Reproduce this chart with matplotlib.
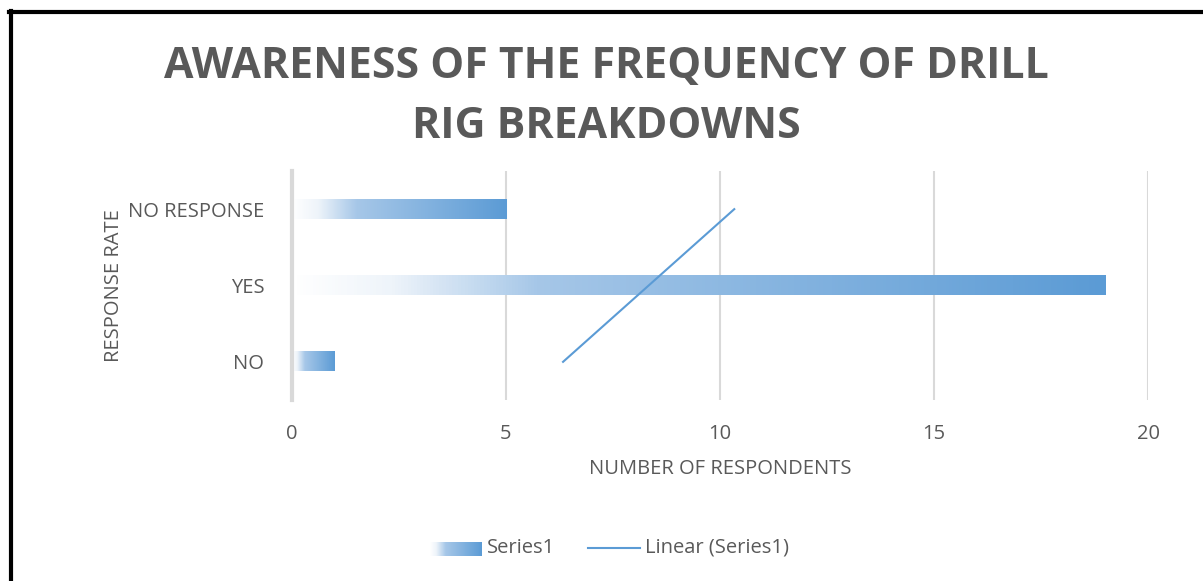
import numpy as np
import matplotlib
matplotlib.use("Agg")
import matplotlib.pyplot as plt
from matplotlib.colors import LinearSegmentedColormap
from matplotlib.lines import Line2D

plt.rcParams['font.family'] = ['Open Sans', 'DejaVu Sans']

categories = ["NO", "YES", "NO RESPONSE"]
respondents = [1, 19, 5]
x_ticks = [0, 5, 10, 15, 20]
title_lines = ["AWARENESS OF THE FREQUENCY OF DRILL", "RIG BREAKDOWNS"]

blue = "#5b9bd5"
grey_text = "#595959"
grid_col = "#d9d9d9"

# gradient like excel's bar fill: pale on the left, full blue at the tip
grad = LinearSegmentedColormap.from_list(
    "bar", [(0, "#ffffff"), (0.12, "#eef4fa"), (0.3, "#a6c7e8"), (1, blue)])
ramp = np.linspace(0, 1, 256).reshape(1, -1)

fig = plt.figure(figsize=(12.03, 5.81), dpi=100)
ax = fig.add_axes([0.2427, 0.3115, 0.7116, 0.3942])

ypos = np.arange(len(categories))
bar_h = 0.25
for y, v in zip(ypos, respondents):
    ax.imshow(ramp, cmap=grad, aspect="auto", interpolation="bilinear",
              extent=[0, v, y - bar_h / 2, y + bar_h / 2], zorder=3)

# linear trendline over the category index (1, 2, 3)
idx = np.arange(1, len(respondents) + 1)
slope, icpt = np.polyfit(idx, respondents, 1)
ax.plot(slope * idx + icpt, ypos, color=blue, lw=1.5, zorder=4)

ax.set_xlim(0, 20)
ax.set_ylim(-0.5, len(categories) - 0.5)
ax.set_xticks(x_ticks)
ax.set_yticks(ypos)
ax.set_yticklabels(categories)
ax.tick_params(length=0, labelsize=14.5, labelcolor=grey_text)
ax.tick_params(axis="x", pad=17)
ax.tick_params(axis="y", pad=20)
ax.xaxis.grid(True, color=grid_col, lw=1.5)
ax.set_axisbelow(True)
for s in ["top", "right", "bottom"]:
    ax.spines[s].set_visible(False)
ax.spines["left"].set_color(grid_col)
ax.spines["left"].set_linewidth(3)
ax.spines["left"].set_zorder(5)

ax.set_xlabel("NUMBER OF RESPONDENTS", fontsize=14.5, color=grey_text, labelpad=11)
ax.set_ylabel("RESPONSE RATE", fontsize=14.5, color=grey_text, labelpad=3)

fig.text(0.504, 1 - 78 / 581, title_lines[0], ha="center", va="baseline",
         fontsize=30.8, fontweight="bold", color=grey_text)
fig.text(0.504, 1 - 138 / 581, title_lines[1], ha="center", va="baseline",
         fontsize=30.8, fontweight="bold", color=grey_text)

# legend, laid out by hand so the swatch can carry the gradient
lax = fig.add_axes([430 / 1203, 1 - 556 / 581, 52 / 1203, 14 / 581])
lax.imshow(ramp, cmap=grad, aspect="auto", interpolation="bilinear")
lax.axis("off")
fig.text(487 / 1203, 1 - 548 / 581, "Series1", ha="left", va="center",
         fontsize=14.5, color=grey_text)
fig.add_artist(Line2D([588 / 1203, 640 / 1203], [1 - 548 / 581] * 2,
                      color=blue, lw=1.5, transform=fig.transFigure))
fig.text(645 / 1203, 1 - 548 / 581, "Linear (Series1)", ha="left", va="center",
         fontsize=14.5, color=grey_text)

# frame edges left and top only, as in the source image
fig.add_artist(Line2D([10.5 / 1203, 10.5 / 1203], [0, 1 - 11 / 581],
                      color="black", lw=3, transform=fig.transFigure))
fig.add_artist(Line2D([9 / 1203, 1], [1 - 12 / 581] * 2,
                      color="black", lw=3, transform=fig.transFigure))

fig.savefig("out.png", dpi=100, facecolor="white")
